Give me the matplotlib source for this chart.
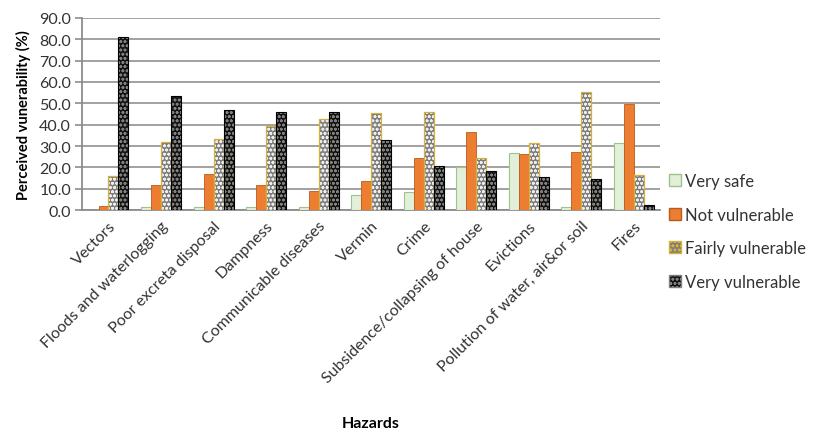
import matplotlib.pyplot as plt
import numpy as np
from matplotlib.patches import Patch

plt.rcParams['font.family'] = ['Lato', 'DejaVu Sans']

hazards = ['Vectors', 'Floods and waterlogging', 'Poor excreta disposal', 'Dampness',
           'Communicable diseases', 'Vermin', 'Crime', 'Subsidence/collapsing of house',
           'Evictions', 'Pollution of water, air&or soil', 'Fires']

very_safe = [0.0, 1.7, 1.7, 1.7, 1.7, 6.9, 8.3, 20.0, 26.6, 1.7, 31.4]
not_vulnerable = [2.0, 12.0, 16.7, 11.9, 9.1, 13.8, 24.2, 36.4, 26.1, 27.3, 49.5]
fairly_vulnerable = [16.1, 32.0, 33.4, 39.5, 42.7, 45.6, 45.9, 24.2, 31.3, 55.5, 16.4]
very_vulnerable = [81.2, 53.4, 46.9, 45.8, 45.9, 33.0, 20.5, 18.4, 15.3, 14.8, 2.2]

fig = plt.figure(figsize=(8.14, 4.39), dpi=100)
ax = fig.add_axes([0.101, 0.519, 0.71, 0.438])

x = np.arange(len(hazards))
w = 0.19
plt.rcParams['hatch.linewidth'] = 0.8

ax.bar(x - 1.5 * w, very_safe, w, color='#e2f0d9', edgecolor='#9cc48a', lw=0.8,
       label='Very safe', zorder=3)
ax.bar(x - 0.5 * w, not_vulnerable, w, color='#ed7d31', edgecolor='#b85a1e', lw=0.6,
       label='Not vulnerable', zorder=3)
# patterned bars: white dot hatch first, then a coloured outline on top
ax.bar(x + 0.5 * w, fairly_vulnerable, w, color='#7c7c7c', edgecolor='#eeeeee', lw=0,
       hatch='oooo', zorder=3)
ax.bar(x + 0.5 * w, fairly_vulnerable, w, fill=False, edgecolor='#d4b13a', lw=0.9, zorder=4)
ax.bar(x + 1.5 * w, very_vulnerable, w, color='#111111', edgecolor='#808080', lw=0,
       hatch='oooo', zorder=3)
ax.bar(x + 1.5 * w, very_vulnerable, w, fill=False, edgecolor='black', lw=0.8, zorder=4)

# legend proxies
handles = [
    Patch(facecolor='#e2f0d9', edgecolor='#9cc48a', label='Very safe'),
    Patch(facecolor='#ed7d31', edgecolor='#b85a1e', label='Not vulnerable'),
    Patch(facecolor='#7c7c7c', edgecolor='#d4b13a', hatch='oooo', label='Fairly vulnerable'),
    Patch(facecolor='#111111', edgecolor='#808080', hatch='oooo', label='Very vulnerable'),
]
leg = ax.legend(handles=handles, loc='upper left', bbox_to_anchor=(0.998, 0.245),
                frameon=False, fontsize=12, handlelength=0.75, handleheight=0.75,
                handletextpad=0.2, labelspacing=1.05, labelcolor='#333333',
                borderaxespad=0.2)

ax.set_ylim(0, 90)
ax.set_yticks(np.arange(0, 91, 10))
ax.set_yticklabels(['%.1f' % v for v in np.arange(0, 91, 10)], fontsize=11.5,
                   color='#333333')
ax.set_xlim(-0.5, len(hazards) - 0.5)
ax.set_xticks(x)
ax.set_xticklabels(hazards, rotation=45, ha='right', rotation_mode='anchor',
                   fontsize=11.5, color='#333333')
ax.tick_params(axis='x', length=0, pad=6)
ax.tick_params(axis='y', length=5, color='#8c8c8c', width=1.2, pad=3)

ax.grid(axis='y', color='#9a9a9a', lw=1.3, zorder=0)
for s in ['top', 'right']:
    ax.spines[s].set_visible(False)
ax.spines['left'].set_color('#8c8c8c')
ax.spines['left'].set_linewidth(1.3)
ax.spines['bottom'].set_color('#8c8c8c')
ax.spines['bottom'].set_linewidth(1.3)

ax.set_ylabel('Perceived vunerability (%)', fontsize=10.5, fontweight='bold', labelpad=6)
fig.text(0.455, 0.025, 'Hazards', fontsize=11.5, fontweight='bold', ha='center')

fig.savefig('out.png', dpi=100)
